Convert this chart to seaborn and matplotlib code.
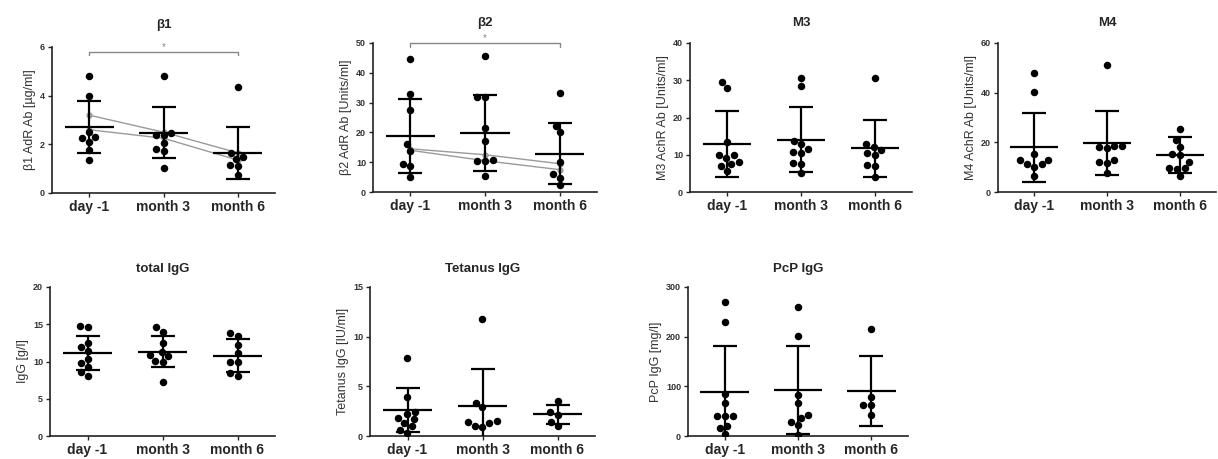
import numpy as np
import pandas as pd
import matplotlib
matplotlib.use("Agg")
import matplotlib.pyplot as plt
import seaborn as sns

sns.set_theme(style="ticks")
plt.rcParams['font.family'] = ['Liberation Sans', 'DejaVu Sans']

timepoints = ["day -1", "month 3", "month 6"]

# individual values per timepoint
b1_day = [4.8, 4.0, 2.5, 2.25, 2.1, 2.3, 1.75, 1.35]
b1_m3 = [4.8, 2.4, 2.4, 2.45, 1.8, 2.05, 1.72, 1.02]
b1_m6 = [4.35, 1.4, 1.15, 1.5, 1.1, 1.65, 0.75]
b1_mean = [2.72, 2.47, 1.64]
b1_sd = [1.07, 1.05, 1.06]
b1_grey_a = [3.2, 2.5, 1.65]
b1_grey_b = [2.6, 2.25, 1.35]

b2_day = [44.6, 32.8, 27.5, 16.0, 13.8, 9.3, 8.8, 5.1]
b2_m3 = [45.6, 32.0, 32.0, 21.4, 17.2, 10.4, 10.4, 10.7, 5.5]
b2_m6 = [33.1, 22.3, 20.0, 10.0, 6.2, 4.8, 2.2]
b2_mean = [18.7, 19.8, 12.85]
b2_sd = [12.4, 12.8, 10.15]
b2_grey_a = [14.5, 12.5, 9.5]
b2_grey_b = [14.0, 10.5, 7.5]

m3_day = [29.5, 28.0, 13.3, 9.8, 9.0, 9.9, 7.4, 7.0, 8.0, 5.7]
m3_m3 = [30.6, 28.5, 13.8, 12.9, 11.5, 10.6, 10.8, 7.7, 7.6, 5.2]
m3_m6 = [30.6, 12.9, 12.2, 11.3, 9.9, 10.4, 7.3, 7.0, 4.1]
m3_mean = [12.9, 14.0, 11.7]
m3_sd = [8.75, 8.75, 7.65]

m4_day = [47.9, 40.1, 15.3, 12.9, 11.3, 10.2, 11.3, 12.9, 6.6]
m4_m3 = [51.0, 18.7, 17.6, 18.1, 18.7, 12.9, 11.8, 12.2, 7.5]
m4_m6 = [25.4, 21.0, 18.3, 14.9, 15.2, 12.0, 9.6, 9.5, 9.4, 6.6]
m4_mean = [18.0, 19.6, 14.8]
m4_sd = [13.8, 12.9, 7.2]

igg_day = [14.7, 14.6, 12.5, 11.4, 11.9, 9.8, 9.2, 10.3, 8.0, 8.6]
igg_m3 = [14.6, 14.0, 12.5, 10.9, 11.3, 10.7, 10.1, 10.0, 7.3]
igg_m6 = [13.8, 13.4, 12.2, 11.1, 9.9, 9.9, 8.4, 8.0]
igg_mean = [11.1, 11.3, 10.8]
igg_sd = [2.3, 2.1, 2.2]

tet_day = [7.9, 3.9, 2.45, 2.2, 1.8, 1.7, 1.3, 1.0, 0.6, 0.35]
tet_m3 = [11.8, 3.3, 2.9, 1.5, 1.3, 1.4, 1.0, 0.9]
tet_m6 = [3.5, 2.4, 2.1, 1.45, 1.0]
tet_mean = [2.6, 3.0, 2.2]
tet_sd = [2.2, 3.7, 0.95]

pcp_day = [270, 229, 84, 66, 40, 40, 40, 17, 21, 5]
pcp_m3 = [260, 202, 83, 66, 42, 36, 29, 22, 3]
pcp_m6 = [216, 79, 63, 63, 42]
pcp_mean = [88, 93, 91]
pcp_sd = [94, 89, 70]

FW, FH = 1218, 459


def rect(l, r, t, b):
    return [l / FW, 1 - b / FH, (r - l) / FW, (b - t) / FH]


def long_frame(day, m3, m6):
    rows = []
    for tp, vals in zip(timepoints, [day, m3, m6]):
        rows += [(tp, v) for v in vals]
    return pd.DataFrame(rows, columns=["time", "value"])


def panel(fig, pos, title, ylabel, data, mean, sd, ymax, step, greys=None, star=None,
          tpad=11):
    ax = fig.add_axes(pos)
    df = long_frame(*data)
    sns.swarmplot(data=df, x="time", y="value", order=timepoints, color="black",
                  size=5.4, ax=ax, zorder=3)
    xs = np.arange(len(timepoints))
    if greys:
        for g in greys:
            ax.plot(xs, g, color="#9a9a9a", lw=1.0, marker="o", ms=3.5,
                    mfc="#b0b0b0", mec="#9a9a9a", zorder=2)
    ax.errorbar(xs, mean, yerr=sd, fmt="none", ecolor="black", elinewidth=1.6,
                capsize=8.5, capthick=1.6, zorder=4)
    ax.hlines(mean, xs - 0.33, xs + 0.33, color="black", lw=1.6, zorder=4)
    ax.set_xlim(-0.5, 2.5)
    ax.set_ylim(0, ymax)
    ax.set_yticks(np.arange(0, ymax + step / 2, step))
    ax.set_title(title, fontsize=9.5, fontweight="bold", pad=tpad)
    ax.set_xlabel("")
    ax.set_ylabel(ylabel, fontsize=9, color="#333333", labelpad=3)
    for lab in ax.get_yticklabels():
        lab.set_fontsize(6.5)
        lab.set_fontweight("bold")
        lab.set_color("#333333")
    for lab in ax.get_xticklabels():
        lab.set_fontsize(10)
        lab.set_fontweight("bold")
    ax.tick_params(axis="both", length=3, width=1, pad=2)
    sns.despine(ax=ax)
    for s in ["left", "bottom"]:
        ax.spines[s].set_linewidth(1.2)
        ax.spines[s].set_color("#222222")
    if star is not None:
        y0, y1 = star
        ax.plot([0, 0, 2, 2], [y0, y1, y1, y0], color="#888888", lw=1.0, clip_on=False)
        ax.text(1, y1, "*", ha="center", va="bottom", fontsize=7, color="#888888")
    return ax


fig = plt.figure(figsize=(FW / 100, FH / 100), dpi=100)

panel(fig, rect(52, 275, 47, 193), "β1", "β1 AdR Ab [µg/ml]",
      (b1_day, b1_m3, b1_m6), b1_mean, b1_sd, 6, 2,
      greys=[b1_grey_a, b1_grey_b], star=(5.67, 5.81), tpad=14)
panel(fig, rect(373, 597, 43, 192), "β2", "β2 AdR Ab [Units/ml]",
      (b2_day, b2_m3, b2_m6), b2_mean, b2_sd, 50, 10,
      greys=[b2_grey_a, b2_grey_b], star=(48.8, 50.1), tpad=12)
panel(fig, rect(690, 912, 43, 192), "M3", "M3 AchR Ab [Units/ml]",
      (m3_day, m3_m3, m3_m6), m3_mean, m3_sd, 40, 10, tpad=12)
panel(fig, rect(998, 1216, 43, 192), "M4", "M4 AchR Ab [Units/ml]",
      (m4_day, m4_m3, m4_m6), m4_mean, m4_sd, 60, 20, tpad=12)
panel(fig, rect(50, 275, 287, 436), "total IgG", "IgG [g/l]",
      (igg_day, igg_m3, igg_m6), igg_mean, igg_sd, 20, 5)
panel(fig, rect(370, 595, 287, 436), "Tetanus IgG", "Tetanus IgG [IU/ml]",
      (tet_day, tet_m3, tet_m6), tet_mean, tet_sd, 15, 5)
panel(fig, rect(688, 908, 287, 436), "PcP IgG", "PcP IgG [mg/l]",
      (pcp_day, pcp_m3, pcp_m6), pcp_mean, pcp_sd, 300, 100)

fig.savefig("out.png", dpi=100)
